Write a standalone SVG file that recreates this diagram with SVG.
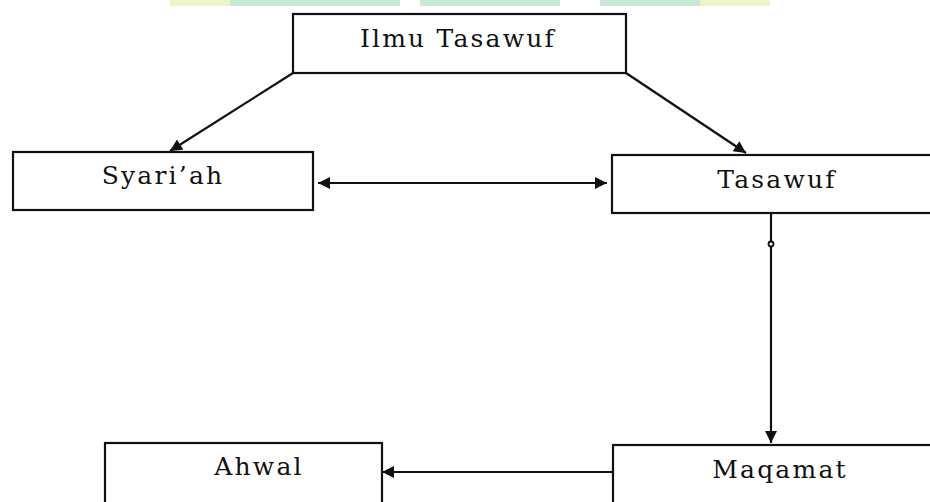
<svg xmlns="http://www.w3.org/2000/svg" width="930" height="502" viewBox="0 0 930 502">
<defs>
<marker id="ah" viewBox="0 0 10 10" refX="10" refY="5" markerWidth="14" markerHeight="12" markerUnits="userSpaceOnUse" orient="auto-start-reverse">
<path d="M0,0 L10,5 L0,10 z" fill="#111"/>
</marker>
<style>
.box{fill:#fff;stroke:#111;stroke-width:2.2}
.lbl{font-family:"DejaVu Serif","Liberation Serif",serif;font-size:25px;letter-spacing:2.2px;fill:#111;text-anchor:middle}
.edge{fill:none;stroke:#111;stroke-width:2.2}
</style>
</defs>
<rect width="930" height="502" fill="#fff"/>
<g id="watermark">
<rect x="170" y="0" width="60" height="6" fill="#eef3c8"/>
<rect x="230" y="0" width="170" height="6" fill="#c9e8d6"/>
<rect x="420" y="0" width="140" height="6" fill="#c9e8d6"/>
<rect x="600" y="0" width="100" height="6" fill="#c9e8d6"/>
<rect x="700" y="0" width="70" height="6" fill="#eef3c8"/>
</g>
<g id="connectors">
<line class="edge" x1="293" y1="73" x2="170" y2="151" marker-end="url(#ah)"/>
<line class="edge" x1="626" y1="73" x2="746" y2="153" marker-end="url(#ah)"/>
<line class="edge" x1="318" y1="183" x2="607" y2="183" marker-start="url(#ah)" marker-end="url(#ah)"/>
<line class="edge" x1="771" y1="213" x2="771" y2="443" marker-end="url(#ah)"/>
<circle cx="771" cy="244" r="2.5" fill="#fff" stroke="#111" stroke-width="1.8"/>
<line class="edge" x1="613" y1="472" x2="382" y2="472" marker-end="url(#ah)"/>
</g>
<g id="ilmu-tasawuf">
<rect class="box" x="293" y="14" width="333" height="59"/>
<text class="lbl" x="458" y="47">Ilmu Tasawuf</text>
</g>
<g id="syariah">
<rect class="box" x="13" y="152" width="300" height="58"/>
<text class="lbl" x="163" y="184">Syari’ah</text>
</g>
<g id="tasawuf">
<rect class="box" x="612" y="155" width="330" height="58"/>
<text class="lbl" x="777" y="188">Tasawuf</text>
</g>
<g id="ahwal">
<rect class="box" x="105" y="443" width="277" height="70"/>
<text class="lbl" x="259" y="475">Ahwal</text>
</g>
<g id="maqamat">
<rect class="box" x="613" y="445" width="330" height="70"/>
<text class="lbl" x="780" y="478">Maqamat</text>
</g>
</svg>
